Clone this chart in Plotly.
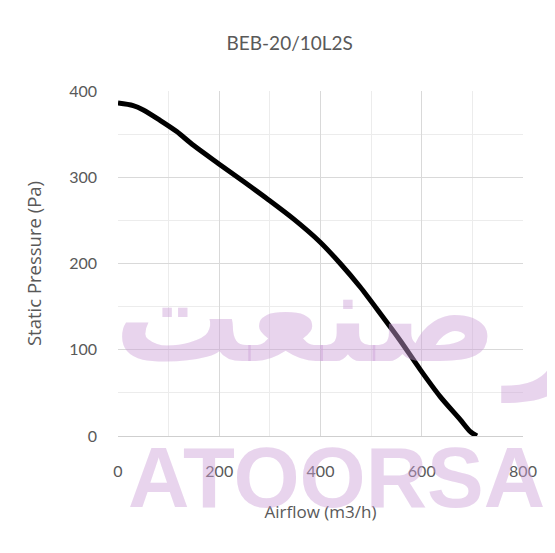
import plotly.graph_objects as go

# fan curve
airflow = [0, 30, 50, 83, 116, 149, 198, 248, 297, 346, 399, 439, 478, 518, 557, 597, 636, 676, 696, 709]
pressure = [386, 383, 378, 366, 353, 337, 316, 295, 274, 252, 225, 200, 173, 142, 111, 77, 46, 19, 5, 0]

x_ticks = [0, 200, 400, 600, 800]
y_ticks = [0, 100, 200, 300, 400]

gray = '#595959'
font = 'Lato, Open Sans, sans-serif'
title_font = 'Open Sans, sans-serif'

fig = go.Figure()
fig.add_trace(go.Scatter(x=airflow, y=pressure, mode='lines',
                         line=dict(color='black', width=5, shape='spline', smoothing=0.8),
                         showlegend=False))

# page has an 8px body margin, so the figure is a bit smaller than the window
fig.update_layout(
    width=547, height=545,
    margin=dict(l=110, r=32, t=83, b=117),
    paper_bgcolor='white', plot_bgcolor='white',
    font=dict(family=font, color=gray, size=16),
    title=dict(text='BEB-20/10L2S', x=0.515, xanchor='center', y=0.935, yanchor='middle',
               font=dict(size=19, color=gray, family=font)),
    xaxis=dict(range=[0, 800], tickvals=x_ticks, showgrid=True, gridcolor='#d9d9d9',
               minor=dict(dtick=100, showgrid=True, gridcolor='#ececec'),
               zeroline=False, showline=True, linecolor='#cfcfcf',
               ticks='', ticklabelstandoff=21,
               title=dict(text='Airflow (m3/h)', standoff=26, font=dict(size=17, color=gray, family=title_font))),
    yaxis=dict(range=[0, 400], tickvals=y_ticks, showgrid=True, gridcolor='#d9d9d9',
               minor=dict(dtick=50, showgrid=True, gridcolor='#ececec'),
               zeroline=False, showline=False, ticks='', ticklabelstandoff=20,
               title=dict(text='Static Pressure (Pa)', standoff=22, font=dict(size=18.5, color=gray, family=title_font))),
)

# watermark
wm = 'rgba(205, 160, 215, 0.45)'
fig.add_annotation(text='<b>ATOORSA</b>', xref='paper', yref='paper', x=0.54, y=-0.12,
                   showarrow=False, font=dict(family='Liberation Sans, Arial', size=85, color=wm),
                   xanchor='center', yanchor='middle')
fig.add_annotation(text='<b>صنعت</b>', xref='paper', yref='paper', x=0.464, y=0.345,
                   showarrow=False, font=dict(family='DejaVu Sans', size=128, color=wm),
                   xanchor='center', yanchor='middle')
fig.add_annotation(text='<b>ر</b>', xref='paper', yref='paper', x=0.94, y=0.33,
                   showarrow=False, font=dict(family='DejaVu Sans', size=138, color=wm),
                   xanchor='left', yanchor='middle')

fig.write_html('out.html')
